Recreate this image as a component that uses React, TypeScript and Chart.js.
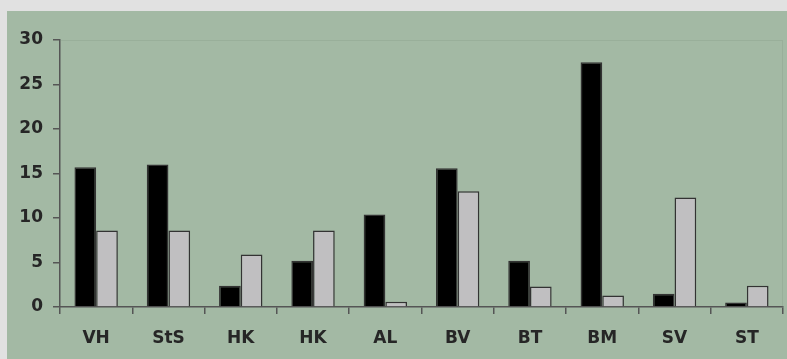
import React, { useEffect, useRef } from "react";
import { Chart, registerables } from "chart.js";

Chart.register(...registerables);

const categories = ["VH", "StS", "HK", "HK", "AL", "BV", "BT", "BM", "SV", "ST"];
const seriesBlack = [15.7, 16.0, 2.4, 5.2, 10.4, 15.6, 5.2, 27.5, 1.5, 0.5];
const seriesGray = [8.6, 8.6, 5.9, 8.6, 0.6, 13.0, 2.3, 1.3, 12.3, 2.4];
const yTicks = [0, 5, 10, 15, 20, 25, 30];

const framePlugin = {
  id: "frame",
  beforeDatasetsDraw(chart: any) {
    const { ctx, chartArea } = chart;
    ctx.save();
    ctx.strokeStyle = "rgba(120,140,120,0.22)";
    ctx.lineWidth = 1;
    ctx.beginPath();
    ctx.moveTo(chartArea.left, chartArea.top + 0.5);
    ctx.lineTo(chartArea.right - 0.5, chartArea.top + 0.5);
    ctx.lineTo(chartArea.right - 0.5, chartArea.bottom);
    ctx.stroke();
    ctx.restore();
  },
};

export default function App() {
  const ref = useRef<HTMLCanvasElement | null>(null);
  useEffect(() => {
    if (!ref.current) return;
    const font = { family: "'DejaVu Sans', Verdana, sans-serif", size: 17, weight: "bold" as const };
    const chart = new Chart(ref.current, {
      type: "bar",
      data: {
        labels: categories,
        datasets: [
          {
            data: seriesBlack,
            backgroundColor: "#000000",
            borderColor: "#333333",
            borderWidth: 1.5,
            categoryPercentage: 0.6,
            barPercentage: 1,
          },
          {
            data: seriesGray,
            backgroundColor: "#c0bfc1",
            borderColor: "#333333",
            borderWidth: 1.5,
            categoryPercentage: 0.6,
            barPercentage: 1,
          },
        ],
      },
      options: {
        animation: false,
        responsive: true,
        maintainAspectRatio: false,
        layout: { padding: { top: 29, right: 4, left: 0, bottom: 0 } },
        plugins: { legend: { display: false }, tooltip: { enabled: false } },
        scales: {
          x: {
            grid: { drawOnChartArea: false, tickLength: 7, color: "#555555", lineWidth: 1.5, offset: true },
            border: { color: "#555555", width: 1.5 },
            ticks: { font, color: "#262626", padding: 14 },
            afterFit: (s: any) => { s.height = 52; },
          },
          y: {
            min: 0,
            max: 30,
            afterBuildTicks: (s: any) => { s.ticks = yTicks.map((v) => ({ value: v })); },
            grid: { drawOnChartArea: false, tickLength: 7, color: "#555555", lineWidth: 1.5 },
            border: { color: "#555555", width: 1.5 },
            ticks: { font, color: "#262626", padding: 10 },
            afterFit: (s: any) => { s.width = 53; },
          },
        },
      },
      plugins: [framePlugin],
    });
    return () => chart.destroy();
  }, []);

  return (
    <div style={{ position: "fixed", left: 0, top: 0, width: 787, height: 359, background: "#e1e1e1" }}>
      <div style={{ position: "absolute", left: 7, top: 11, width: 780, height: 348, background: "#a3b9a4" }}>
        <canvas ref={ref} />
      </div>
    </div>
  );
}
